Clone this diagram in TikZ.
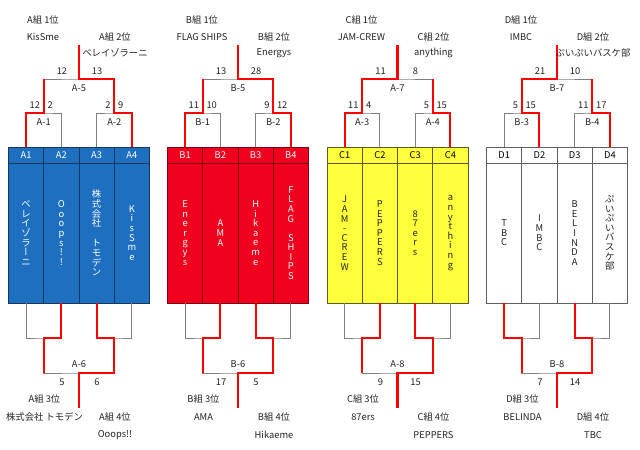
\documentclass[tikz,border=0pt]{standalone}
\usepackage{fontspec}
\setmainfont{Noto Sans CJK JP}
\newfontfamily\jpvert[RawFeature=+vert]{Noto Sans CJK JP}
\usetikzlibrary{calc, positioning}
\definecolor{ablue}{HTML}{1F6FC0}
\definecolor{aline}{HTML}{16385E}
\definecolor{bred}{HTML}{F0001E}
\definecolor{bline}{HTML}{7A0012}
\definecolor{cyellow}{HTML}{FFFF3C}
\definecolor{cline}{HTML}{5A5A22}
\definecolor{dwhite}{HTML}{FFFFFF}
\definecolor{dline}{HTML}{5F5F5F}
\definecolor{winred}{HTML}{FF0000}
\definecolor{linegray}{HTML}{808080}
\definecolor{textdark}{HTML}{222222}

\begin{document}
\begin{tikzpicture}[x=0.75pt, y=-0.75pt,
    every node/.style={font=\fontsize{7}{8}\selectfont, text=textdark},
    head/.style={draw, minimum width=26.44pt, minimum height=12pt, inner sep=0pt, line width=0.6pt},
    body/.style={draw, minimum width=26.44pt, minimum height=105pt, inner sep=0pt, line width=0.6pt},
    vtext/.style={align=center, inner sep=0pt, font=\fontsize{7}{7.2}\selectfont},
    bracket/.style={draw=linegray, line width=0.75pt},
    win/.style={draw=winred, line width=1.6pt},
    score/.style={inner sep=0pt}]
  \useasboundingbox (0,0) rectangle (640,450);

  % tables and gray brackets
  \foreach \grp/\x/\fc/\tc/\lc in {A/8.5/ablue/white/aline, B/167.5/bred/white/bline, C/327/cyellow/black/cline, D/486.5/dwhite/black/dline}{
    \begin{scope}[shift={(\x,0)}]
      \foreach \i in {1,...,4}{
        \node[head, fill=\fc, draw=\lc, text=\tc] (\grp\i) at ({35.25*\i-17.6},155) {\grp\i};
        \node[body, fill=\fc, draw=\lc] (body\grp\i) at ({35.25*\i-17.6},233) {};
      }
      \coordinate (\grp-tl) at (35.27,113);
      \coordinate (\grp-tr) at (105.8,113);
      \coordinate (\grp-tc) at (70.5,79);
      \coordinate (\grp-tw) at (70.5,45);
      \coordinate (\grp-bl) at (35.27,338);
      \coordinate (\grp-br) at (105.8,338);
      \coordinate (\grp-bc) at (70.5,373);
      \coordinate (\grp-bw) at (70.5,408);
      \draw[bracket] (\grp1.north) |- (\grp-tl) -| (\grp2.north);
      \draw[bracket] (\grp3.north) |- (\grp-tr) -| (\grp4.north);
      \draw[bracket] (\grp-tl) |- (\grp-tc) -| (\grp-tr);
      \draw[bracket] (\grp-tc) -- (\grp-tw);
      \draw[bracket] (body\grp1.south) |- (\grp-bl) -| (body\grp2.south);
      \draw[bracket] (body\grp3.south) |- (\grp-br) -| (body\grp4.south);
      \draw[bracket] (\grp-bl) |- (\grp-bc) -| (\grp-br);
      \draw[bracket] (\grp-bc) -- (\grp-bw);
    \end{scope}
  }

  % team names in the columns
  \node[vtext, text=white] at (bodyA1) {ベ\\レ\\イ\\ゾ\\ラ\\{\jpvert ー}\\ニ};
  \node[vtext, text=white] at (bodyA2) {O\\o\\o\\p\\s\\!\\!};
  \node[vtext, text=white] at (bodyA3) {株\\式\\会\\社\\[8pt]ト\\モ\\デ\\ン};
  \node[vtext, text=white] at (bodyA4) {K\\i\\s\\S\\m\\e};
  \node[vtext, text=white] at (bodyB1) {E\\n\\e\\r\\g\\y\\s};
  \node[vtext, text=white] at (bodyB2) {A\\M\\A};
  \node[vtext, text=white] at (bodyB3) {H\\i\\k\\a\\e\\m\\e};
  \node[vtext, text=white] at (bodyB4) {F\\L\\A\\G\\[7pt]S\\H\\I\\P\\S};
  \node[vtext] at (bodyC1) {J\\A\\M\\-\\C\\R\\E\\W};
  \node[vtext] at (bodyC2) {P\\E\\P\\P\\E\\R\\S};
  \node[vtext] at (bodyC3) {8\\7\\e\\r\\s};
  \node[vtext] at (bodyC4) {a\\n\\y\\t\\h\\i\\n\\g};
  \node[vtext] at (bodyD1) {T\\B\\C};
  \node[vtext] at (bodyD2) {I\\M\\B\\C};
  \node[vtext] at (bodyD3) {B\\E\\L\\I\\N\\D\\A};
  \node[vtext] at (bodyD4) {ぷ\\い\\ぷ\\い\\バ\\ス\\ケ\\部};

  % winners
  \draw[win] (A1.north) |- (A-tl) -- (A-tl |- A-tc);
  \draw[win] (A4.north) |- (A-tr) -- (A-tr |- A-tc) -- (A-tc) -- (A-tw);
  \draw[win] (bodyA2.south) |- (A-bl) -- (A-bl |- A-bc);
  \draw[win] (bodyA3.south) |- (A-br) -- (A-br |- A-bc) -- (A-bc) -- (A-bw);
  \draw[win] (B1.north) |- (B-tl) -- (B-tl |- B-tc);
  \draw[win] (B4.north) |- (B-tr) -- (B-tr |- B-tc) -- (B-tc) -- (B-tw);
  \draw[win] (bodyB2.south) |- (B-bl) -- (B-bl |- B-bc);
  \draw[win] (bodyB3.south) |- (B-br) -- (B-br |- B-bc) -- (B-bc) -- (B-bw);
  \draw[win] (C1.north) |- (C-tl) -- (C-tl |- C-tc) -- (C-tc) -- (C-tw);
  \draw[win] (C4.north) |- (C-tr) -- (C-tr |- C-tc);
  \draw[win] (bodyC2.south) |- (C-bl) -- (C-bl |- C-bc);
  \draw[win] (bodyC3.south) |- (C-br) -- (C-br |- C-bc) -- (C-bc) -- (C-bw);
  \draw[win] (D2.north) |- (D-tl) -- (D-tl |- D-tc) -- (D-tc) -- (D-tw);
  \draw[win] (D4.north) |- (D-tr) -- (D-tr |- D-tc);
  \draw[win] (bodyD1.south) |- (D-bl) -- (D-bl |- D-bc);
  \draw[win] (bodyD3.south) |- (D-br) -- (D-br |- D-bc) -- (D-bc) -- (D-bw);

  % match names and scores
  \foreach \grp/\ma/\mb/\mc/\md/\sa/\sb/\sc/\sd/\se/\sf/\sg/\sh in {A/A-1/A-2/A-5/A-6/12/2/2/9/12/13/5/6, B/B-1/B-2/B-5/B-6/11/10/9/12/13/28/17/5, C/A-3/A-4/A-7/A-8/11/4/5/15/11/8/9/15, D/B-3/B-4/B-7/B-8/5/15/11/17/21/10/7/14}{
    \node at ($(\grp-tl)+(0,9)$) {\ma};
    \node at ($(\grp-tr)+(0,9)$) {\mb};
    \node at ($(\grp-tc)+(0,9)$) {\mc};
    \node at ($(\grp-bc)+(0,-9)$) {\md};
    \node[score, anchor=east] at ($(\grp-tl)+(-3.5,-8)$) {\sa};
    \node[score, anchor=west] at ($(\grp-tl)+(3.5,-8)$) {\sb};
    \node[score, anchor=east] at ($(\grp-tr)+(-3.5,-8)$) {\sc};
    \node[score, anchor=west] at ($(\grp-tr)+(3.5,-8)$) {\sd};
    \node[score] at ($(\grp-tc)+(-17,-8)$) {\se};
    \node[score] at ($(\grp-tc)+(18,-8)$) {\sf};
    \node[score] at ($(\grp-bc)+(-17,9)$) {\sg};
    \node[score] at ($(\grp-bc)+(18,9)$) {\sh};
  }

  % group ranking
  \foreach \grp/\ra/\rb/\rc/\rd in {A/KisSme/ベレイゾラーニ/株式会社 トモデン/Ooops!!, B/FLAG SHIPS/Energys/AMA/Hikaeme, C/JAM-CREW/anything/87ers/PEPPERS, D/IMBC/ぷいぷいバスケ部/BELINDA/TBC}{
    \node at ($(\grp-tw)+(-36,-25)$) {\grp{}組 1位};
    \node at ($(\grp-tw)+(-36,-8)$) {\ra};
    \node at ($(\grp-tw)+(36,-8)$) {\grp{}組 2位};
    \node at ($(\grp-tw)+(36,8)$) {\rb};
    \node at ($(\grp-bw)+(-34.5,-9)$) {\grp{}組 3位};
    \node at ($(\grp-bw)+(-34.5,9)$) {\rc};
    \node at ($(\grp-bw)+(36,9)$) {\grp{}組 4位};
    \node at ($(\grp-bw)+(36,27)$) {\rd};
  }
\end{tikzpicture}
\end{document}
